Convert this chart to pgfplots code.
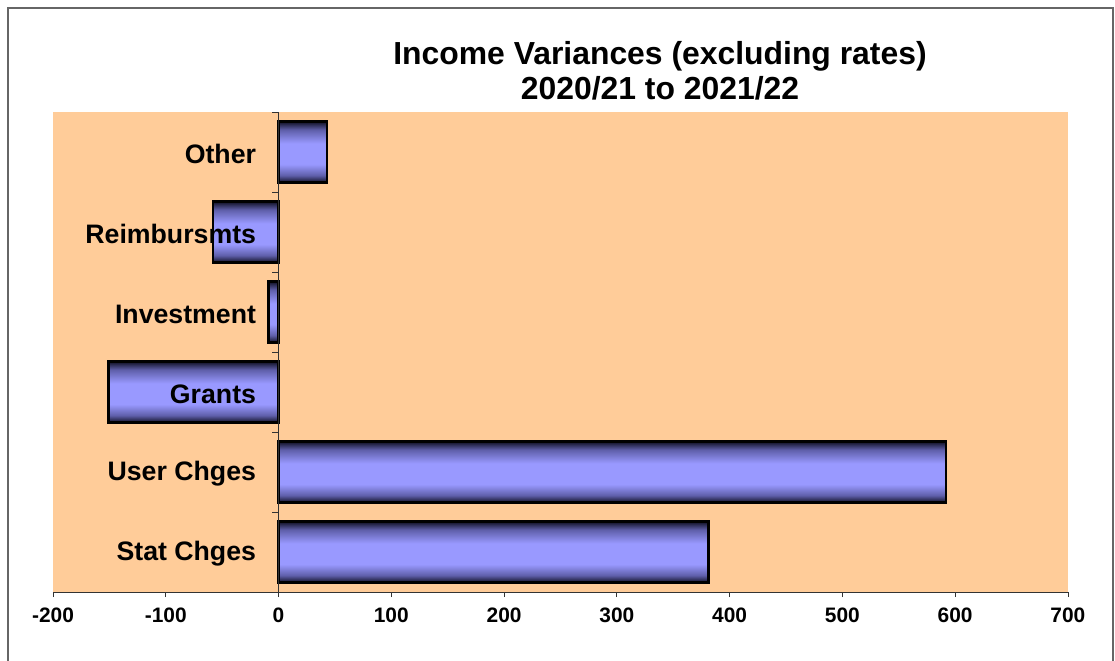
\documentclass[border=0pt]{standalone}
\usepackage{pgfplots}
\pgfplotsset{compat=1.18}
\usepackage{fontspec}
\setmainfont{Liberation Sans}
\definecolor{peach}{RGB}{255,204,153}
\definecolor{bdark}{RGB}{12,12,30}
\definecolor{bmid}{RGB}{95,95,170}
\definecolor{blight}{RGB}{153,153,255}
\pgfdeclareverticalshading{barshade}{100bp}{color(0bp)=(bdark); color(25bp)=(bdark); color(31bp)=(bmid); color(40bp)=(blight); color(57bp)=(blight); color(68bp)=(bmid); color(75bp)=(bdark); color(100bp)=(bdark)}
\pgfplotsset{mybar/.style={xbar, bar width=0.77, bar shift=0pt, draw=black, line width=2.7bp, shade, shading=barshade}}
\begin{document}
\begin{tikzpicture}
\useasboundingbox (0,0) rectangle (1115bp,-661bp);
\draw[black!60, line width=1.5bp] (8bp,-661bp) -- (8bp,-8bp) -- (1113bp,-8bp) -- (1113bp,-661bp);
\node[anchor=base, font=\fontsize{32}{38}\selectfont\bfseries] at (660bp,-64bp) {Income Variances (excluding rates)};
\node[anchor=base, font=\fontsize{32}{38}\selectfont\bfseries] at (660bp,-99bp) {2020/21 to 2021/22};
\begin{axis}[
  at={(53bp,-592bp)}, anchor=south west,
  scale only axis, width=1015bp, height=480bp,
  xmin=-200, xmax=700, ymin=-0.5, ymax=5.5,
  axis x line=bottom, axis y line=middle,
  axis on top,
  axis line style={-, black!80, line width=0.8bp},
  axis background/.style={fill=peach},
  xtick={-200,-100,0,100,200,300,400,500,600,700},
  xticklabels={-200,-100,0,100,200,300,400,500,600,700},
  hide obscured x ticks=false,
  tick align=outside,
  major tick length=5bp,
  tick style={black!80, line width=0.8bp},
  ytick style={draw=none},
  ytick={0,1,2,3,4,5},
  yticklabels={Stat Chges,User Chges,Grants,Investment,Reimbursmts,Other},
  xticklabel style={font=\fontsize{21}{24}\selectfont\bfseries, yshift=-7bp},
  yticklabel style={font=\fontsize{26.8}{30}\selectfont\bfseries, xshift=-14bp, yshift=-2bp},
]
\addplot[mybar] coordinates {(381,0)};
\addplot[mybar] coordinates {(592,1)};
\addplot[mybar] coordinates {(-151,2)};
\addplot[mybar] coordinates {(-9,3)};
\addplot[mybar] coordinates {(-58,4)};
\addplot[mybar] coordinates {(43,5)};
\pgfplotsinvokeforeach{-0.5,0.5,1.5,2.5,3.5,4.5,5.5}{\draw[black!80, line width=0.8bp] (axis cs:0,#1) -- ++(-7bp,0bp);}
\end{axis}
\end{tikzpicture}
\end{document}
